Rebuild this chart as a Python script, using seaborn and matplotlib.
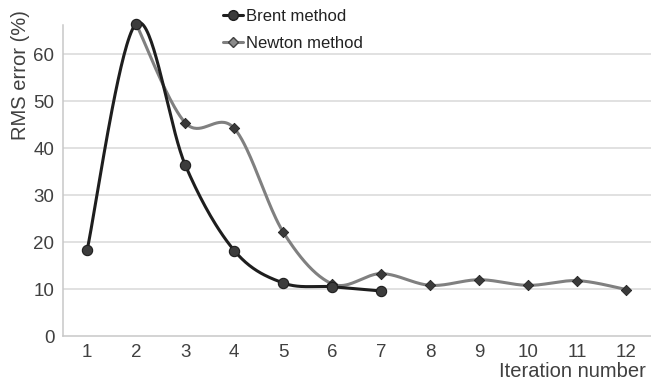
import numpy as np
import pandas as pd
import matplotlib
matplotlib.use("Agg")
import matplotlib.pyplot as plt
import seaborn as sns
from matplotlib.lines import Line2D

# ---- data ----
brent_x = [1, 2, 3, 4, 5, 6, 7]
brent_y = [18.4, 66.5, 36.4, 18.2, 11.3, 10.5, 9.6]
newton_x = [2, 3, 4, 5, 6, 7, 8, 9, 10, 11, 12]
newton_y = [66.4, 45.4, 44.2, 22.1, 11.1, 13.3, 10.8, 12.0, 10.8, 11.8, 9.9]
x_ticks = list(range(1, 13))
y_ticks = [0, 10, 20, 30, 40, 50, 60]
series_names = ["Brent method", "Newton method"]


def smooth(xs, ys, n=40):
    """Catmull-Rom (Excel-like) smoothing through the data points."""
    xs = np.asarray(xs, float)
    ys = np.asarray(ys, float)
    P = np.column_stack([xs, ys])
    P = np.vstack([P[0], P, P[-1]])
    out = []
    for i in range(1, len(P) - 2):
        p0, p1, p2, p3 = P[i - 1], P[i], P[i + 1], P[i + 2]
        c1 = p1 + (p2 - p0) / 6.0
        c2 = p2 - (p3 - p1) / 6.0
        t = np.linspace(0, 1, n)[:, None]
        seg = ((1 - t) ** 3) * p1 + 3 * ((1 - t) ** 2) * t * c1 + 3 * (1 - t) * t ** 2 * c2 + t ** 3 * p2
        out.append(seg if i == 1 else seg[1:])
    return np.vstack(out)


sns.set_theme(style="white")
plt.rcParams["font.family"] = ["Liberation Sans", "DejaVu Sans"]

text_c = "#404040"
fig = plt.figure(figsize=(6.51, 3.85), dpi=100)
ax = fig.add_axes([0.0963, 0.127, 0.9037, 0.808])

nb = smooth(newton_x, newton_y)
bb = smooth(brent_x, brent_y)
df_n = pd.DataFrame({"x": nb[:, 0], "y": nb[:, 1]})
df_b = pd.DataFrame({"x": bb[:, 0], "y": bb[:, 1]})

sns.lineplot(data=df_n, x="x", y="y", sort=False, estimator=None, ax=ax,
             color="#808080", lw=2.2, zorder=3, clip_on=False)
sns.scatterplot(x=newton_x, y=newton_y, ax=ax, marker="D", s=28, color="#3a3a3a",
                edgecolor="#222222", linewidth=0.6, zorder=4, clip_on=False)
sns.lineplot(data=df_b, x="x", y="y", sort=False, estimator=None, ax=ax,
             color="#1e1e1e", lw=2.2, zorder=5, clip_on=False)
sns.scatterplot(x=brent_x, y=brent_y, ax=ax, marker="o", s=55, color="#3c3c3c",
                edgecolor="#1e1e1e", linewidth=0.8, zorder=6, clip_on=False)

ax.set_xlim(0.5, 12.5)
ax.set_ylim(0, 66.2)
ax.set_xticks(x_ticks)
ax.set_xticklabels([str(v) for v in x_ticks])
ax.set_yticks(y_ticks)
ax.tick_params(axis="both", length=0, labelsize=13.5, colors=text_c)
ax.tick_params(axis="x", pad=6)
ax.tick_params(axis="y", pad=6)
for yv in y_ticks[1:]:
    ax.axhline(yv, color="#d9d9d9", lw=1.1, zorder=1)
for s in ["top", "right"]:
    ax.spines[s].set_visible(False)
for s in ["left", "bottom"]:
    ax.spines[s].set_color("#c8c8c8")
    ax.spines[s].set_linewidth(1.1)
ax.set_xlabel("")
ax.set_ylabel("")

fig.text(0.032, 0.805, "RMS error (%)", rotation=90, ha="center", va="center",
         fontsize=14.5, color=text_c)
fig.text(0.992, 0.034, "Iteration number", ha="right", va="center",
         fontsize=14.5, color=text_c)

handles = [
    Line2D([0], [0], color="#1e1e1e", lw=2.2, marker="o", markersize=7,
           markerfacecolor="#3c3c3c", markeredgecolor="#1e1e1e"),
    Line2D([0], [0], color="#808080", lw=2.2, marker="D", markersize=5.5,
           markerfacecolor="#8a8a8a", markeredgecolor="#404040"),
]
leg = fig.legend(handles, series_names, loc="upper left", bbox_to_anchor=(0.333, 0.995),
                 frameon=False, fontsize=12, handlelength=1.2, handletextpad=0.15,
                 labelspacing=0.75, borderaxespad=0)
for t in leg.get_texts():
    t.set_color("#222222")

fig.savefig("out.png", dpi=100)
